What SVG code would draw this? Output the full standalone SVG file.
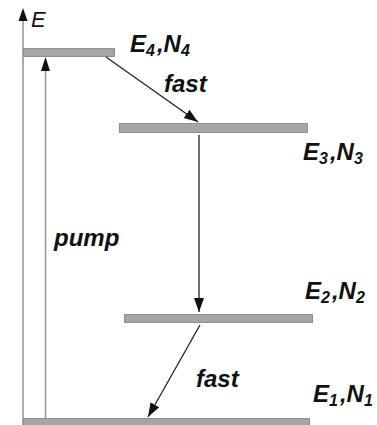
<svg xmlns="http://www.w3.org/2000/svg" width="377" height="425" viewBox="0 0 377 425">
<defs>
<marker id="ah" markerUnits="userSpaceOnUse" markerWidth="16" markerHeight="12" refX="14" refY="6" orient="auto">
<path d="M0,1 L14,6 L0,11 z" fill="#111"/>
</marker>
<style>
.bar{fill:#a6a6a6;stroke:#8f8f8f;stroke-width:1}
.axis{stroke:#999;stroke-width:1.6;fill:none}
.arr{stroke:#222;stroke-width:1.3;fill:none;marker-end:url(#ah)}
.lbl{font-family:"Liberation Sans",Arial,sans-serif;font-weight:bold;font-style:italic;font-size:24px;fill:#111}
.sub{font-size:16px}
</style>
</defs>
<rect width="377" height="425" fill="#fff"/>
<g id="axis">
<line class="axis" x1="23" y1="425" x2="23" y2="18"/>
<path d="M18.5,21 L23,8 L27.5,21 z" fill="#111"/>
<text x="31" y="27" font-family="'Liberation Sans',Arial,sans-serif" font-style="italic" font-size="22" fill="#111">E</text>
</g>
<g id="level4">
<rect class="bar" x="23.5" y="48.5" width="91" height="8"/>
<text class="lbl" x="130" y="52">E<tspan class="sub" dy="4">4</tspan><tspan dx="2" dy="-4">,N</tspan><tspan class="sub" dy="4">4</tspan></text>
</g>
<g id="level3">
<rect class="bar" x="119.5" y="123.5" width="188" height="9"/>
<text class="lbl" x="303" y="160">E<tspan class="sub" dy="4">3</tspan><tspan dx="2" dy="-4">,N</tspan><tspan class="sub" dy="4">3</tspan></text>
</g>
<g id="level2">
<rect class="bar" x="124.5" y="314.5" width="188" height="8"/>
<text class="lbl" x="305" y="299">E<tspan class="sub" dy="4">2</tspan><tspan dx="2" dy="-4">,N</tspan><tspan class="sub" dy="4">2</tspan></text>
</g>
<g id="level1">
<rect class="bar" x="23.5" y="418.5" width="286" height="8"/>
<text class="lbl" x="313" y="402">E<tspan class="sub" dy="4">1</tspan><tspan dx="2" dy="-4">,N</tspan><tspan class="sub" dy="4">1</tspan></text>
</g>
<g id="connectors">
<line x1="45.5" y1="418" x2="45.5" y2="70" stroke="#999" stroke-width="1.6"/>
<path d="M41,71 L45.5,57 L50,71 z" fill="#111"/>
<line class="arr" x1="106" y1="57" x2="198" y2="122"/>
<line class="arr" x1="199" y1="135" x2="199" y2="312"/>
<line class="arr" x1="200" y1="325" x2="148" y2="417"/>
</g>
<g id="labels">
<text class="lbl" x="164" y="92">fast</text>
<text class="lbl" x="196" y="387">fast</text>
<text class="lbl" x="54" y="246">pump</text>
</g>
</svg>
